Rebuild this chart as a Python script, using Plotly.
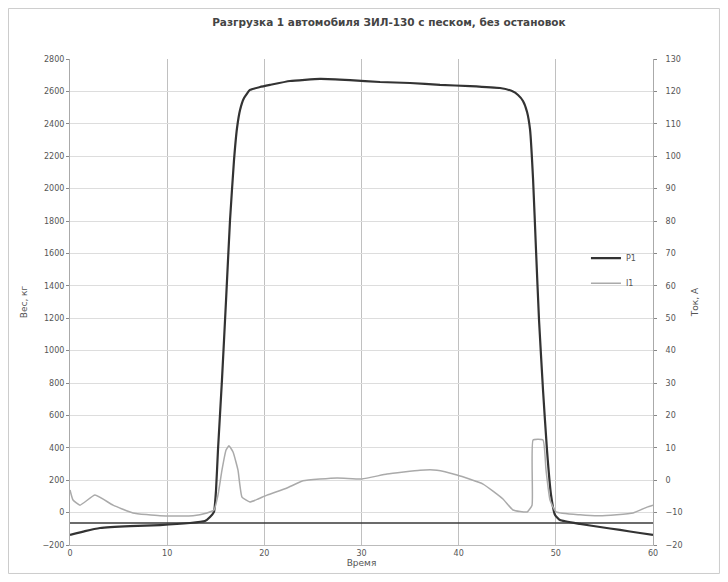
import plotly.graph_objects as go

# ---- data ----
t_weight = [0, 1.54, 3.09, 6.18, 9.26, 12.35, 13.89, 14.41, 14.82, 15.03, 15.23, 15.64, 16.06,
            16.47, 16.88, 17.19, 17.50, 17.91, 18.52, 19.55, 20.58, 22.64, 25.73, 28.82, 31.91,
            34.99, 38.08, 41.17, 44.26, 45.49, 46.11, 46.62, 47.04, 47.35, 47.66, 47.96, 48.27,
            48.68, 49.09, 49.51, 49.92, 50.43, 52.49, 54.55, 56.61, 58.66, 60]
weight = [-138, -114, -95, -83, -77, -64, -52, -27, 4, 140, 386, 819, 1312,
          1806, 2177, 2374, 2485, 2559, 2609, 2627, 2640, 2664, 2677, 2670, 2658,
          2652, 2640, 2633, 2621, 2602, 2578, 2541, 2473, 2362, 2053, 1621, 1189,
          757, 386, 108, -15, -46, -70, -89, -107, -126, -138]

t_current = [0, 0.31, 1.03, 2.57, 4.43, 6.48, 9.26, 12.66, 14.10, 14.82, 15.23, 15.64, 16.06,
             16.36, 16.78, 17.29, 17.70, 18.52, 19.35, 20.28, 22.33, 23.98, 27.48, 30.05,
             32.63, 36.02, 37.77, 39.83, 42.51, 44.56, 45.59, 47.04, 47.55, 47.66, 48.68,
             48.99, 49.40, 50.02, 52.49, 54.55, 57.95, 59.39, 60]
current = [-3.0, -6.1, -7.7, -4.6, -7.7, -10.1, -11.0, -11.0, -10.1, -9.2, -4.6, 3.1, 9.3,
           10.6, 8.7, 3.1, -5.2, -6.7, -5.8, -4.6, -2.4, -0.2, 0.7, 0.4,
           1.9, 3.1, 3.1, 1.6, -1.2, -5.8, -9.2, -9.8, -7.7, 12.4, 12.4,
           3.1, -6.1, -9.8, -10.7, -11.0, -10.1, -8.3, -7.7]

t_base = [0, 60]
base = [-64, -64]

x_ticks = [0, 10, 20, 30, 40, 50, 60]
left_ticks = list(range(-200, 2801, 200))
right_ticks = list(range(-20, 131, 10))

series_names = ["P1", "I1"]
title_text = "Разгрузка 1 автомобиля ЗИЛ-130 с песком, без остановок"

fig = go.Figure()
fig.add_trace(go.Scatter(x=t_base, y=base, mode="lines", showlegend=False,
                         line=dict(color="#3a3a3a", width=1.6), hoverinfo="skip"))
fig.add_trace(go.Scatter(x=t_weight, y=weight, mode="lines", name=series_names[0],
                         legendgroup="a",
                         line=dict(color="#333333", width=2.2, shape="spline", smoothing=0.4)))
fig.add_trace(go.Scatter(x=t_current, y=current, mode="lines", name=series_names[1],
                         yaxis="y2", legendgroup="b",
                         line=dict(color="#aaaaaa", width=1.5, shape="spline", smoothing=0.4)))

font_fam = "DejaVu Sans, Arial, sans-serif"
fig.update_layout(
    width=712, height=566,
    margin=dict(l=62, r=67, t=51, b=29, autoexpand=False),
    paper_bgcolor="white", plot_bgcolor="white",
    font=dict(family=font_fam, size=8, color="#555555"),
    title=dict(text="<b>" + title_text + "</b>", x=0.535, xanchor="center", y=0.975,
               yanchor="middle",
               font=dict(size=10.5, color="#444444", family=font_fam)),
    xaxis=dict(range=[0, 60], tickvals=x_ticks, showgrid=True, gridcolor="#c0c0c0",
               gridwidth=1, showline=True, linecolor="#bbbbbb", mirror=False,
               ticks="", zeroline=False, ticklabelstandoff=0, automargin=False,
               title=dict(text="Время", font=dict(size=9, color="#555555"), standoff=2)),
    yaxis=dict(range=[-200, 2800], tickvals=left_ticks, showgrid=True, gridcolor="#dddddd",
               showline=True, linecolor="#aaaaaa", ticks="outside", ticklen=3,
               tickcolor="#888888", zeroline=False, automargin=False,
               title=dict(text="Вес, кг", font=dict(size=9, color="#555555"), standoff=13)),
    yaxis2=dict(range=[-20, 130], tickvals=right_ticks, overlaying="y", side="right",
                showgrid=False, showline=True, linecolor="#aaaaaa", ticks="outside",
                ticklen=3, tickcolor="#888888", zeroline=False, ticklabelstandoff=7,
                automargin=False,
                title=dict(text="Ток, А", font=dict(size=9, color="#555555"), standoff=10)),
    legend=dict(x=0.885, y=0.62, xanchor="left", yanchor="top", bgcolor="rgba(0,0,0,0)",
                font=dict(size=8, color="#555555"), tracegroupgap=6, itemwidth=30),
    shapes=[dict(type="rect", xref="paper", yref="paper", x0=-0.1055, x1=1.114,
                 y0=-0.0586, y1=1.104, line=dict(color="#cccccc", width=1))],
)

fig.write_html("out.html")
